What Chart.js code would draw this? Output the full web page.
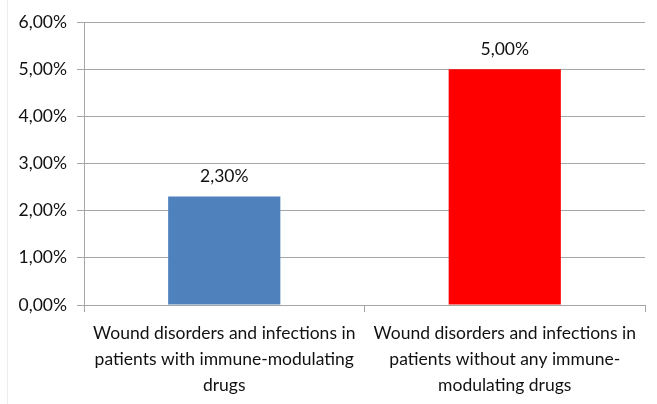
<!DOCTYPE html>
<html>
<head>
<meta charset="utf-8">
<script src="https://cdn.jsdelivr.net/npm/chart.js@4/dist/chart.umd.min.js"></script>
<style>
html,body{margin:0;padding:0;background:#fff;}
#wrap{width:657px;height:404px;position:relative;}
</style>
</head>
<body>
<div id="wrap"><canvas id="c" width="657" height="404"></canvas></div>
<script>
const categories = [
  ["Wound disorders and infections in", "patients with immune-modulating", "drugs"],
  ["Wound disorders and infections in", "patients without any immune-", "modulating drugs"]
];
const values = [2.3, 5.0];
const barColors = ["#4f81bd", "#ff0000"];
const yTicks = [0, 1, 2, 3, 4, 5, 6];

const fmt = v => v.toFixed(2).replace('.', ',') + '%';
const FONT = "Lato, 'Open Sans', sans-serif";
const FS = 17.5;

const labelPlugin = {
  id: 'valLabels',
  afterDatasetsDraw(chart) {
    const ctx = chart.ctx;
    const meta = chart.getDatasetMeta(0);
    ctx.save();
    ctx.font = FS + "px " + FONT;
    ctx.fillStyle = "#111";
    ctx.textAlign = "center";
    ctx.textBaseline = "middle";
    meta.data.forEach((bar, i) => {
      ctx.fillText(fmt(values[i]), bar.x, bar.y - 20);
    });
    ctx.restore();
  }
};
const borderPlugin = {
  id: 'leftBorder',
  beforeDraw(chart) {
    const ctx = chart.ctx;
    ctx.save();
    ctx.strokeStyle = "#ececec";
    ctx.lineWidth = 1;
    ctx.beginPath();
    ctx.moveTo(7.5, 0);
    ctx.lineTo(7.5, 404);
    ctx.stroke();
    ctx.restore();
  }
};

new Chart(document.getElementById('c'), {
  type: 'bar',
  data: {
    labels: categories,
    datasets: [{
      data: values,
      backgroundColor: barColors,
      borderWidth: 0,
      categoryPercentage: 1.0,
      barPercentage: 0.4
    }]
  },
  options: {
    responsive: false,
    animation: false,
    devicePixelRatio: 1,
    layout: { padding: { top: 22, right: 12, left: 0, bottom: 0 } },
    plugins: { legend: { display: false }, tooltip: { enabled: false } },
    scales: {
      y: {
        min: 0, max: 6,
        afterFit(s) { s.width = 84; },
        afterBuildTicks(s) { s.ticks = yTicks.map(v => ({ value: v })); },
        ticks: {
          callback: v => fmt(v),
          font: { size: FS, family: FONT },
          color: "#111",
          padding: 10
        },
        grid: { color: "#a6a6a6", lineWidth: 1, tickLength: 7 },
        border: { color: "#a6a6a6", width: 1 }
      },
      x: {
        afterFit(s) { s.height = 99; },
        ticks: {
          font: { size: FS, family: FONT, lineHeight: 1.5 },
          color: "#111",
          padding: 8,
          maxRotation: 0
        },
        grid: { drawOnChartArea: false, color: "#a6a6a6", tickLength: 7, offset: true },
        border: { color: "#a6a6a6", width: 1 }
      }
    }
  },
  plugins: [labelPlugin, borderPlugin]
});
</script>
</body>
</html>
